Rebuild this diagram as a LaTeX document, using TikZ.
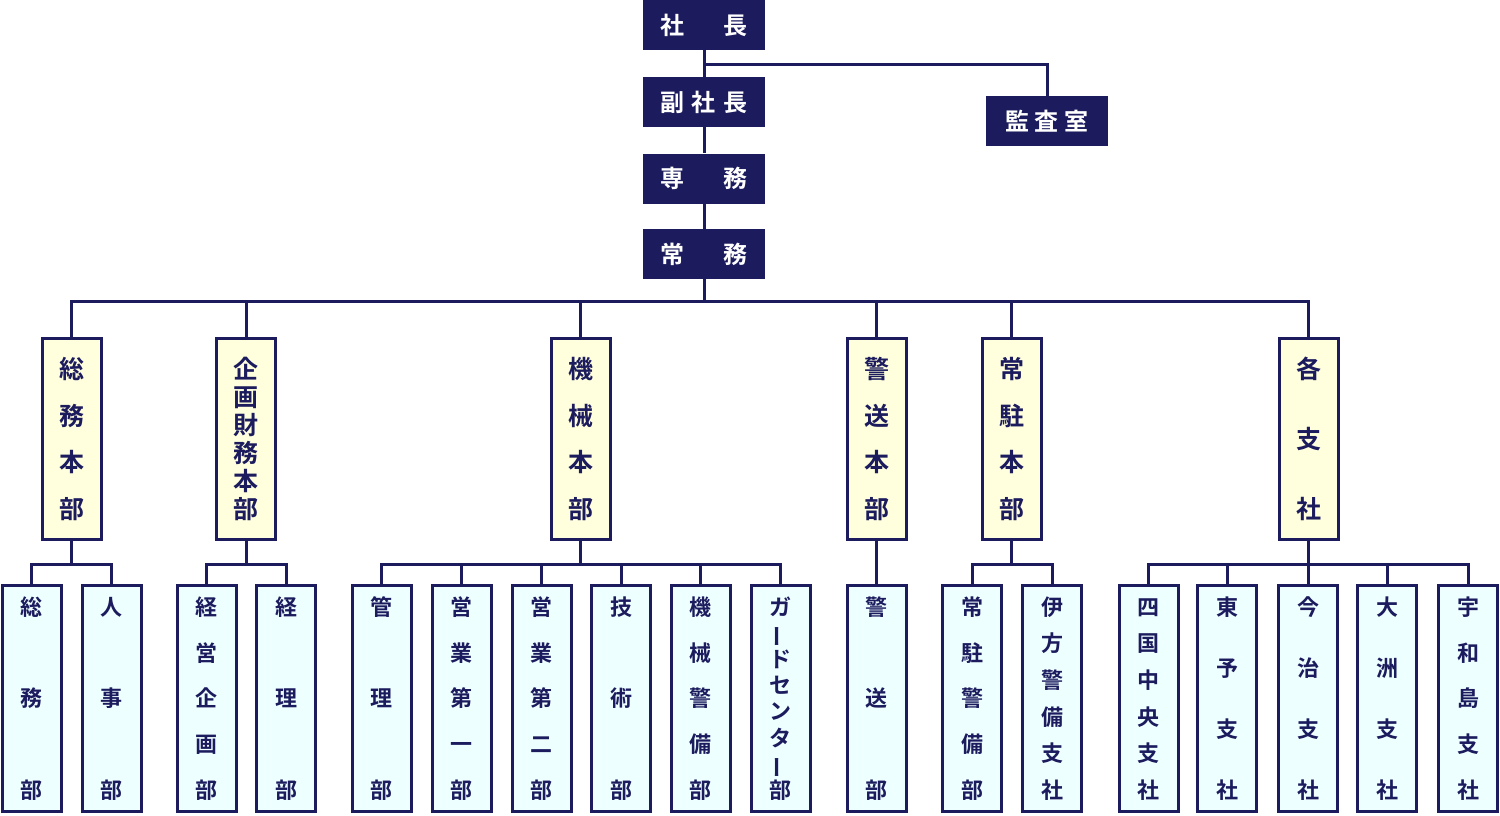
\documentclass[tikz,border=0pt]{standalone}
\usepackage{fontspec}
\usepackage{graphicx}
\setmainfont{Noto Sans CJK JP}[BoldFont={Noto Sans CJK JP Bold}]
\definecolor{navy}{RGB}{27,27,94}
\definecolor{lvtwo}{RGB}{255,255,221}
\definecolor{lvthree}{RGB}{238,255,255}
\newcommand\gch[1]{\hbox to 0pt{\hss\smash{\raisebox{-0.38em}{#1}}\hss}}
\newcommand\vt[2]{\vbox to #1{\offinterlineskip\foreach \c [count=\i] in {#2}{\ifnum\i>1 \vfil\fi\gch{\c}}}}
\newcommand\vbar{\rotatebox[origin=c]{90}{ー}}
\begin{document}
\begin{tikzpicture}[x=1pt,y=-1pt,
  topbox/.style={fill=navy,text=white,minimum width=122pt,minimum height=50pt,inner sep=0pt,font=\fontsize{24}{24}\selectfont\bfseries},
  hqbox/.style={draw=navy,line width=3pt,fill=lvtwo,text=navy,minimum width=59pt,minimum height=201pt,inner sep=0pt,font=\fontsize{25}{25}\selectfont\bfseries},
  deptbox/.style={draw=navy,line width=3pt,fill=lvthree,text=navy,minimum width=59pt,minimum height=226pt,inner sep=0pt,font=\fontsize{22}{22}\selectfont\bfseries},
  conn/.style={draw=navy,line width=3pt}]
\useasboundingbox (0,0) rectangle (1500,815);
% top
\node[topbox] (shacho) at (704,25) {\hbox to 63pt{\gch{社}\hfil\gch{長}}};
\node[topbox] (fuku) at (704,102) {\hbox to 63pt{\gch{副}\hfil\gch{社}\hfil\gch{長}}};
\node[topbox] (senmu) at (704,178.5) {\hbox to 63pt{\gch{専}\hfil\gch{務}}};
\node[topbox] (jomu) at (704,254) {\hbox to 63pt{\gch{常}\hfil\gch{務}}};
\node[topbox] (kansa) at (1047,121) {\hbox to 60pt{\gch{監}\hfil\gch{査}\hfil\gch{室}}};
% level 2
\node[hqbox] (somu) at (71.5,439) {\vt{140pt}{総,務,本,部}};
\node[hqbox] (kikaku) at (246,439) {\vt{140pt}{企,画,財,務,本,部}};
\node[hqbox] (kikai) at (580.5,439) {\vt{140pt}{機,械,本,部}};
\node[hqbox] (keiso) at (876.5,439) {\vt{140pt}{警,送,本,部}};
\node[hqbox] (jochu) at (1011.5,439) {\vt{140pt}{常,駐,本,部}};
\node[hqbox] (shisha) at (1308.5,439) {\vt{140pt}{各,支,社}};
% level 3
\node[deptbox] (d1) at (31.5,698.5) {\vt{183pt}{総,務,部}};
\node[deptbox] (d2) at (111.5,698.5) {\vt{183pt}{人,事,部}};
\node[deptbox] (d3) at (206.5,698.5) {\vt{183pt}{経,営,企,画,部}};
\node[deptbox] (d4) at (286,698.5) {\vt{183pt}{経,理,部}};
\node[deptbox] (d5) at (381.5,698.5) {\vt{183pt}{管,理,部}};
\node[deptbox] (d6) at (461.5,698.5) {\vt{183pt}{営,業,第,一,部}};
\node[deptbox] (d7) at (541.5,698.5) {\vt{183pt}{営,業,第,二,部}};
\node[deptbox] (d8) at (621,698.5) {\vt{183pt}{技,術,部}};
\node[deptbox] (d9) at (700.5,698.5) {\vt{183pt}{機,械,警,備,部}};
\node[deptbox] (d10) at (780.5,698.5) {\vt{183pt}{ガ,\vbar,ド,セ,ン,タ,\vbar,部}};
\node[deptbox] (d11) at (876.5,698.5) {\vt{183pt}{警,送,部}};
\node[deptbox] (d12) at (972,698.5) {\vt{183pt}{常,駐,警,備,部}};
\node[deptbox] (d13) at (1052,698.5) {\vt{183pt}{伊,方,警,備,支,社}};
\node[deptbox] (d14) at (1148.5,698.5) {\vt{183pt}{四,国,中,央,支,社}};
\node[deptbox] (d15) at (1227,698.5) {\vt{183pt}{東,予,支,社}};
\node[deptbox] (d16) at (1308,698.5) {\vt{183pt}{今,治,支,社}};
\node[deptbox] (d17) at (1387,698.5) {\vt{183pt}{大,洲,支,社}};
\node[deptbox] (d18) at (1468,698.5) {\vt{183pt}{宇,和,島,支,社}};
% connectors top
\draw[conn] (shacho.south) -- (fuku.north);
\draw[conn] (fuku.south) -- (senmu.north);
\draw[conn] (senmu.south) -- (jomu.north);
\coordinate (kbr) at (704,64);
\draw[conn] (kbr) -| (kansa.north);
\coordinate (bus) at (704,301);
\draw[conn] (jomu.south) -- (bus);
\draw[conn] (somu.north) |- (bus) -| (shisha.north);
\foreach \n in {kikaku,kikai,keiso,jochu} \draw[conn] (\n.north) -- (\n.north |- bus);
% level 3 connectors
\draw[conn] (somu.south) -- (somu.south |- 0,564) coordinate (b1);
\draw[conn] (d1.north) |- (b1) -| (d2.north);
\draw[conn] (kikaku.south) -- (kikaku.south |- 0,564) coordinate (b2);
\draw[conn] (d3.north) |- (b2) -| (d4.north);
\draw[conn] (kikai.south) -- (kikai.south |- 0,564) coordinate (b3);
\draw[conn] (d5.north) |- (b3) -| (d10.north);
\foreach \n in {d6,d7,d8,d9} \draw[conn] (\n.north) -- (\n.north |- b3);
\draw[conn] (keiso.south) -- (d11.north);
\draw[conn] (jochu.south) -- (jochu.south |- 0,564) coordinate (b4);
\draw[conn] (d12.north) |- (b4) -| (d13.north);
\draw[conn] (shisha.south) -- (shisha.south |- 0,564) coordinate (b5);
\draw[conn] (d14.north) |- (b5) -| (d18.north);
\foreach \n in {d15,d16,d17} \draw[conn] (\n.north) -- (\n.north |- b5);
\end{tikzpicture}
\end{document}
